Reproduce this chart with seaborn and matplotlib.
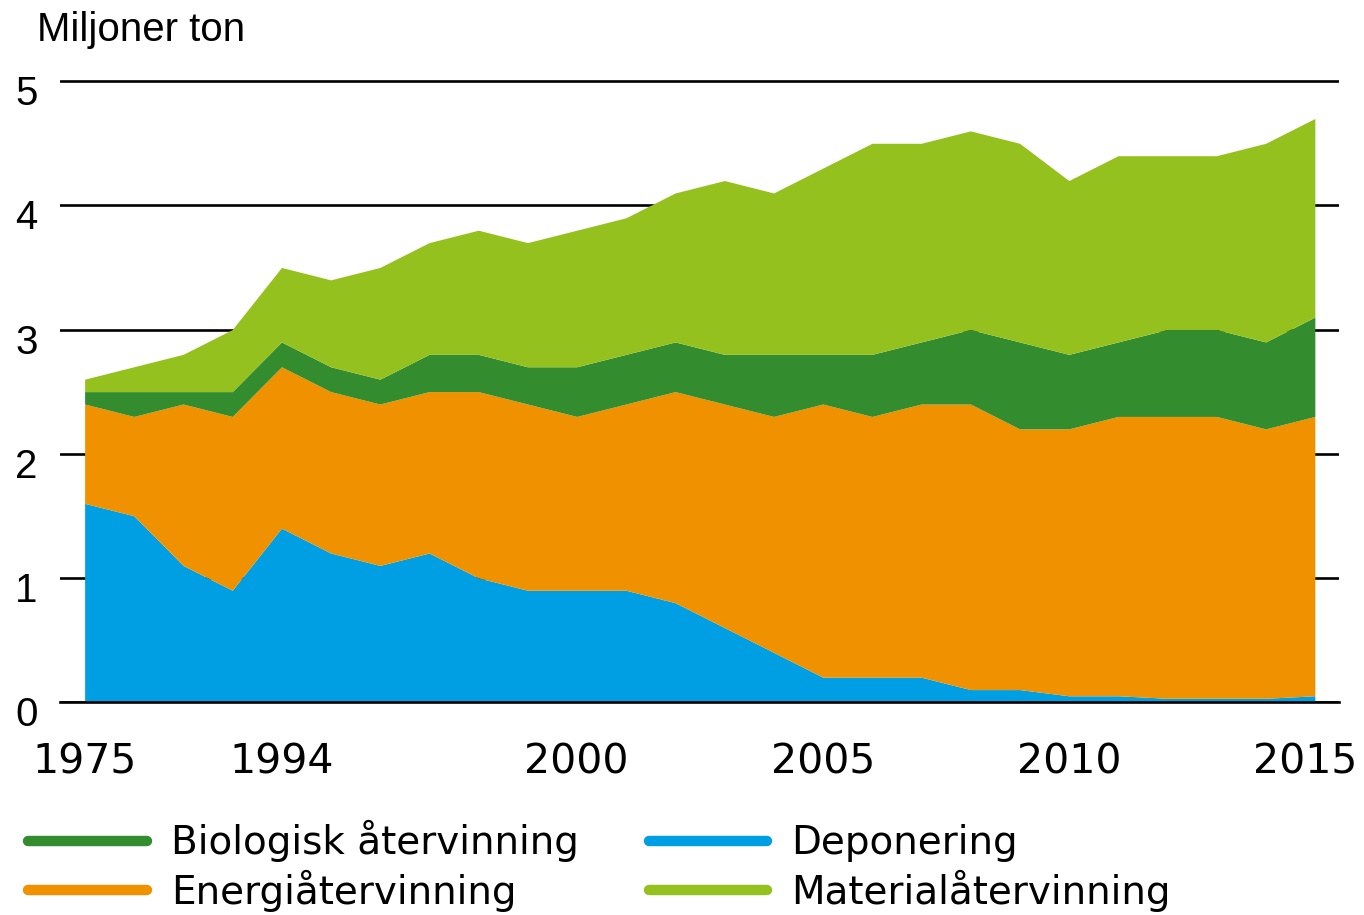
import pandas as pd
import numpy as np
import matplotlib
matplotlib.use("Agg")
import matplotlib.pyplot as plt
import matplotlib.transforms as mtransforms
from matplotlib.lines import Line2D
import seaborn as sns

# Years (uneven spacing before 1994, drawn at equal steps)
years = [1975, 1980, 1985, 1990, 1994, 1995, 1996, 1997, 1998, 1999, 2000,
         2001, 2002, 2003, 2004, 2005, 2006, 2007, 2008, 2009, 2010,
         2011, 2012, 2013, 2014, 2015]
tick_years = [1975, 1994, 2000, 2005, 2010, 2015]

# Million tonnes per treatment method
deponering = [1.6, 1.5, 1.1, 0.9, 1.4, 1.2, 1.1, 1.2, 1.0, 0.9, 0.9,
              0.9, 0.8, 0.6, 0.4, 0.2, 0.2, 0.2, 0.1, 0.1, 0.05,
              0.05, 0.03, 0.03, 0.03, 0.05]
energi = [0.8, 0.8, 1.3, 1.4, 1.3, 1.3, 1.3, 1.3, 1.5, 1.5, 1.4,
          1.5, 1.7, 1.8, 1.9, 2.2, 2.1, 2.2, 2.3, 2.1, 2.15,
          2.25, 2.27, 2.27, 2.17, 2.25]
biologisk = [0.1, 0.2, 0.1, 0.2, 0.2, 0.2, 0.2, 0.3, 0.3, 0.3, 0.4,
             0.4, 0.4, 0.4, 0.5, 0.4, 0.5, 0.5, 0.6, 0.7, 0.6,
             0.6, 0.7, 0.7, 0.7, 0.8]
material = [0.1, 0.2, 0.3, 0.5, 0.6, 0.7, 0.9, 0.9, 1.0, 1.0, 1.1,
            1.1, 1.2, 1.4, 1.3, 1.5, 1.7, 1.6, 1.6, 1.6, 1.4,
            1.5, 1.4, 1.4, 1.6, 1.6]

df = pd.DataFrame({
    'År': years,
    'Deponering': deponering,
    'Energiåtervinning': energi,
    'Biologisk återvinning': biologisk,
    'Materialåtervinning': material,
})

colors = {
    'Deponering': '#009FE3',
    'Energiåtervinning': '#F09100',
    'Biologisk återvinning': '#338C2E',
    'Materialåtervinning': '#95C11F',
}
stack_order = ['Deponering', 'Energiåtervinning', 'Biologisk återvinning', 'Materialåtervinning']

sns.set_style("white")
plt.rcParams['font.family'] = ['DejaVu Sans']
plt.rcParams['text.color'] = 'black'
plt.rcParams['xtick.color'] = 'black'
plt.rcParams['ytick.color'] = 'black'

fig = plt.figure(figsize=(13.64, 9.15), dpi=100)
ax = fig.add_axes([0.044, 0.2328, 0.938, 0.6798])

pos = np.arange(len(df))
ax.stackplot(pos, [df[c] for c in stack_order],
             colors=sns.color_palette([colors[c] for c in stack_order]),
             linewidth=0, zorder=1)

ax.set_xlim(-0.5, len(df) - 0.5)
ax.set_ylim(0, 5.01)
ax.set_yticks([0, 1, 2, 3, 4, 5])
ax.set_xticks([years.index(y) for y in tick_years])
ax.set_xticklabels([str(y) for y in tick_years])

ax.yaxis.grid(True, color='black', linewidth=1.9)
ax.set_axisbelow(True)
for s in ['top', 'left', 'right']:
    ax.spines[s].set_visible(False)
ax.spines['bottom'].set_color('black')
ax.spines['bottom'].set_linewidth(1.9)
ax.spines['bottom'].set_zorder(3)

ax.tick_params(axis='x', length=0, pad=29, labelsize=29.5)
ax.tick_params(axis='y', length=0, pad=16, labelsize=29)

# y labels sit slightly below their grid lines in the reference
down = mtransforms.ScaledTranslation(0, -9 / 100, fig.dpi_scale_trans)
for lab in ax.get_yticklabels():
    lab.set_fontfamily('Liberation Sans')
    lab.set_transform(lab.get_transform() + down)
left = mtransforms.ScaledTranslation(-10 / 100, 0, fig.dpi_scale_trans)
last = ax.get_xticklabels()[-1]
last.set_transform(last.get_transform() + left)

fig.text(0.027, 0.967, 'Miljoner ton', fontsize=29, family='Liberation Sans',
         ha='left', va='center')

legend_order = ['Biologisk återvinning', 'Energiåtervinning', 'Deponering', 'Materialåtervinning']
handles = [Line2D([0], [0], color=colors[c], lw=7.5, solid_capstyle='round') for c in legend_order]
fig.legend(handles, legend_order, ncol=2, loc='upper left',
           bbox_to_anchor=(0.0205, 0.1035), frameon=False, fontsize=28,
           handlelength=3.05, handletextpad=0.62, columnspacing=1.8,
           labelspacing=0.19, borderaxespad=0, borderpad=0)

fig.savefig('out.png', dpi=100)
